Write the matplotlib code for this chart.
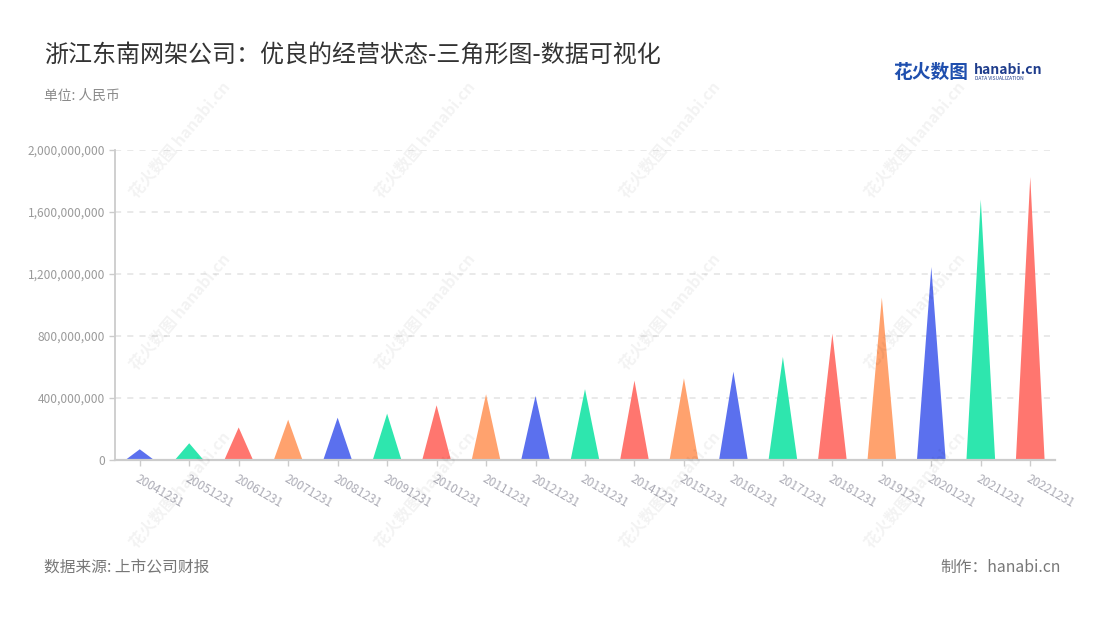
import matplotlib
matplotlib.use("Agg")
import matplotlib.pyplot as plt
from matplotlib.ticker import FuncFormatter, MultipleLocator

plt.rcParams['font.family'] = ['Noto Sans CJK SC', 'DejaVu Sans']

# ---- data ----
categories = ["20041231", "20051231", "20061231", "20071231", "20081231",
              "20091231", "20101231", "20111231", "20121231", "20131231",
              "20141231", "20151231", "20161231", "20171231", "20181231",
              "20191231", "20201231", "20211231", "20221231"]
values = [69e6, 108e6, 210e6, 260e6, 273e6, 299e6, 353e6, 424e6, 413e6, 457e6,
          512e6, 527e6, 570e6, 665e6, 815e6, 1048e6, 1245e6, 1680e6, 1826e6]
palette = ["#5B70EE", "#2EE6AE", "#FF766F", "#FFA26E"]

title = "浙江东南网架公司：优良的经营状态-三角形图-数据可视化"
unit_label = "单位: 人民币"
source_label = "数据来源: 上市公司财报"
credit_label = "制作：hanabi.cn"

# ---- figure ----
W, H = 1100, 620
fig = plt.figure(figsize=(W / 100, H / 100), dpi=100)
fig.patch.set_facecolor("white")

ax = fig.add_axes([115 / W, 1 - 460 / H, (1055 - 115) / W, (460 - 150) / H])
ax.set_facecolor("none")

half_w = 0.29
for i, v in enumerate(values):
    ax.fill([i - half_w, i, i + half_w], [0, v, 0],
            color=palette[i % len(palette)], linewidth=0, zorder=3)

ax.set_xlim(-0.5, len(categories) - 0.5)
ax.set_ylim(0, 2e9)
ax.yaxis.set_major_locator(MultipleLocator(4e8))
ax.yaxis.set_major_formatter(FuncFormatter(lambda v, p: f"{int(v):,}"))

ax.set_xticks(range(len(categories)))
ax.set_xticklabels(categories, rotation=-30, ha="left", va="top",
                   rotation_mode="anchor")

ax.grid(axis="y", color="#e3e3e3", linestyle=(0, (4, 4)), linewidth=1.1, zorder=0)
for s in ["top", "right"]:
    ax.spines[s].set_visible(False)
ax.spines["left"].set_color("#cccccc")
ax.spines["left"].set_linewidth(1.3)
ax.spines["bottom"].set_color("#cccccc")
ax.spines["bottom"].set_linewidth(1.6)
ax.spines["bottom"].set_zorder(4)

ax.tick_params(axis="y", colors="#cccccc", labelcolor="#9a9a9a", labelsize=8.6,
               length=4, width=1, pad=3)
ax.tick_params(axis="x", colors="#cccccc", labelcolor="#ababb5", labelsize=8.6,
               length=4, width=1, pad=5)

# ---- watermarks ----
for cx in [180, 425, 670, 915]:
    for cy in [140, 312, 490]:
        fig.text(cx / W, 1 - cy / H, "花火数图 hanabi.cn", rotation=50,
                 ha="center", va="center", fontsize=11.5, fontweight="bold",
                 color="#000000", alpha=0.05, zorder=0)

# ---- text ----
fig.text(44 / W, 1 - 55 / H, title, ha="left", va="center",
         fontsize=17.3, color="#333333")
fig.text(44 / W, 1 - 96 / H, unit_label, ha="left", va="center",
         fontsize=9.9, color="#8a8a8a")
fig.text(44 / W, 1 - 567 / H, source_label, ha="left", va="center",
         fontsize=11.3, color="#777777")
fig.text(1061 / W, 1 - 567 / H, credit_label, ha="right", va="center",
         fontsize=11.3, color="#777777")

# logo
fig.text(893 / W, 1 - 72 / H, "花火数图", ha="left", va="center",
         fontsize=13.5, fontweight="bold", color="#1f4fae")
fig.text(974 / W, 1 - 70 / H, "hanabi.cn", ha="left", va="center",
         fontsize=10, fontweight="bold", color="#1f3d8c")
fig.text(975 / W, 1 - 79 / H, "DATA VISUALIZATION", ha="left", va="center",
         fontsize=3.5, color="#1f3d8c")

fig.savefig("out.png", dpi=100, facecolor="white")
